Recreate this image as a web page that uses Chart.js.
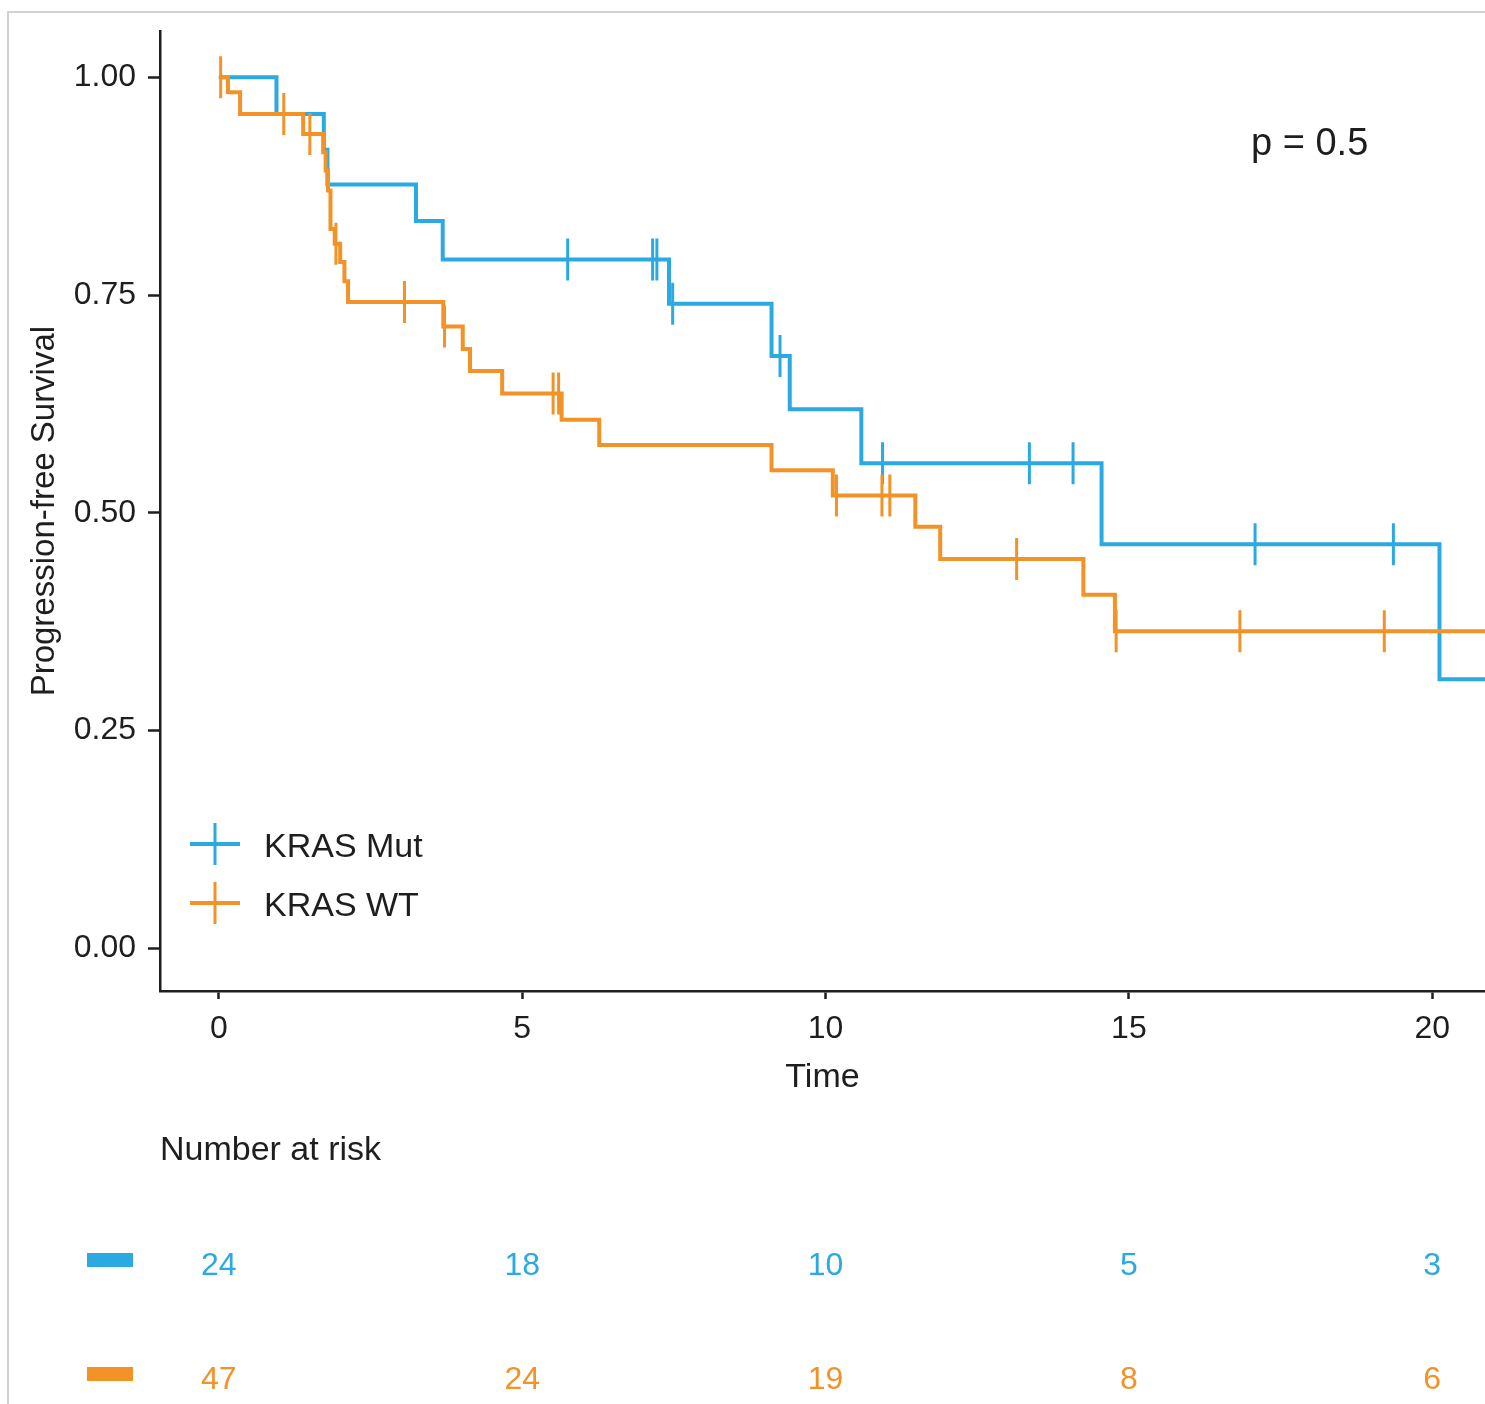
<!DOCTYPE html>
<html>
<head>
<meta charset="utf-8">
<script src="https://cdn.jsdelivr.net/npm/chart.js@4/dist/chart.umd.min.js"></script>
<style>
  html, body { margin: 0; padding: 0; background: #fff; overflow: hidden; }
  #frame { position: absolute; left: 7px; top: 11px; right: -10px; bottom: -10px; border-left: 2px solid #d2d2d2; border-top: 2px solid #d2d2d2; }
  #km { position: absolute; left: 0; top: 0; }
</style>
</head>
<body>
<div id="frame"></div>
<canvas id="km" width="1485" height="1404"></canvas>
<script>
// survival data
const groups = ['KRAS Mut', 'KRAS WT']
const colors = ['#2BA9E1', '#F29227']

const mutTimes = [0, 0.95, 1.73, 1.79, 3.25, 3.69, 7.42, 9.11, 9.41, 10.59, 14.55, 20.12]
const mutSurv = [1.0, 0.958, 0.917, 0.877, 0.835, 0.791, 0.740, 0.680, 0.619, 0.557, 0.464, 0.309]
const mutCensored = [5.75, 7.15, 7.22, 7.48, 9.25, 10.94, 13.36, 14.08, 17.08, 19.36]

const wtTimes = [0, 0.15, 0.35, 1.39, 1.72, 1.76, 1.80, 1.84, 1.91, 2.00, 2.07, 2.13, 3.70, 4.02, 4.14, 4.67, 5.65, 6.27, 9.11, 10.12, 11.48, 11.89, 14.25, 14.77]
const wtSurv = [1.0, 0.983, 0.958, 0.935, 0.914, 0.893, 0.870, 0.826, 0.809, 0.788, 0.766, 0.742, 0.714, 0.688, 0.663, 0.637, 0.607, 0.578, 0.549, 0.520, 0.484, 0.447, 0.406, 0.364]
const wtCensored = [0.03, 1.07, 1.50, 1.93, 3.06, 3.72, 5.51, 5.60, 10.18, 10.93, 11.06, 13.15, 14.79, 16.83, 19.21]

const timeTicks = [0, 5, 10, 15, 20]
const survTicks = [0, 0.25, 0.5, 0.75, 1]
const mutAtRisk = [24, 18, 10, 5, 3]
const wtAtRisk = [47, 24, 19, 8, 6]
const pText = 'p = 0.5'

const xMin = -0.97, xMax = 20.87
const yMin = -0.049, yMax = 1.053
const font = '"Liberation Sans", Arial, sans-serif'
const ink = '#1e1e1e'

function survAt(times, surv, t) {
    var s = surv[0]
    for (var i = 0; i < times.length; i++) if (times[i] <= t) s = surv[i]
    return s
}
function curve(times, surv) {
    var pts = times.map((t, i) => ({x: t, y: surv[i]}))
    pts.push({x: xMax, y: surv[surv.length - 1]})
    return pts
}
function marks(times, surv, cens) {
    return cens.map(t => ({x: t, y: survAt(times, surv, t)}))
}

const overlay = {
    id: 'overlay',
    afterDraw(chart) {
        const ctx = chart.ctx
        const xs = chart.scales.x
        ctx.save()
        // legend inside plot
        groups.forEach((g, i) => {
            var cy = 844 + i * 59
            ctx.strokeStyle = colors[i]
            ctx.lineWidth = 4
            ctx.beginPath(); ctx.moveTo(190, cy); ctx.lineTo(240, cy); ctx.stroke()
            ctx.lineWidth = 3
            ctx.beginPath(); ctx.moveTo(215, cy - 21); ctx.lineTo(215, cy + 21); ctx.stroke()
            ctx.fillStyle = ink
            ctx.font = '34px ' + font
            ctx.textAlign = 'left'
            ctx.textBaseline = 'middle'
            ctx.fillText(g, 264, cy + 4)
        })
        // p value
        ctx.font = '38px ' + font
        ctx.textBaseline = 'alphabetic'
        ctx.fillStyle = ink
        ctx.fillText(pText, 1251, 155)
        // risk table
        ctx.font = '34px ' + font
        ctx.fillText('Number at risk', 160, 1160)
        const rows = [mutAtRisk, wtAtRisk]
        const rowY = [1275, 1389]
        rows.forEach((row, r) => {
            ctx.fillStyle = colors[r]
            ctx.fillRect(87, rowY[r] - 22, 46, 14)
            ctx.font = '32px ' + font
            ctx.textAlign = 'center'
            row.forEach((n, j) => {
                ctx.fillText(String(n), xs.getPixelForValue(timeTicks[j]), rowY[r])
            })
            ctx.textAlign = 'left'
        })
        ctx.restore()
    }
}

new Chart(document.getElementById('km').getContext('2d'), {
    type: 'line',
    data: {
        datasets: [
            {label: groups[0], data: curve(mutTimes, mutSurv), stepped: true, borderColor: colors[0], borderWidth: 4, pointRadius: 0, fill: false, order: 2},
            {label: groups[1], data: curve(wtTimes, wtSurv), stepped: true, borderColor: colors[1], borderWidth: 4, pointRadius: 0, fill: false, order: 1},
            {label: groups[0] + ' censored', data: marks(mutTimes, mutSurv, mutCensored), showLine: false, pointStyle: 'line', rotation: 90, pointRadius: 21, pointBorderWidth: 3, borderColor: colors[0], order: 2},
            {label: groups[1] + ' censored', data: marks(wtTimes, wtSurv, wtCensored), showLine: false, pointStyle: 'line', rotation: 90, pointRadius: 21, pointBorderWidth: 3, borderColor: colors[1], order: 1}
        ]
    },
    options: {
        responsive: false,
        animation: false,
        layout: {autoPadding: false, padding: {left: 0, top: 30, right: 0, bottom: 306}},
        plugins: {legend: {display: false}, tooltip: {enabled: false}},
        scales: {
            x: {
                type: 'linear', min: xMin, max: xMax,
                afterBuildTicks: s => { s.ticks = timeTicks.map(v => ({value: v})) },
                afterFit: s => { s.height = 107; s.paddingLeft = 0; s.paddingRight = 0 },
                grid: {display: true, drawOnChartArea: false, drawTicks: true, tickLength: 8, tickColor: ink, tickWidth: 2.5},
                border: {display: true, color: ink, width: 2.5},
                ticks: {color: ink, font: {family: font, size: 32}, padding: 11, maxRotation: 0},
                title: {display: true, text: 'Time', color: ink, font: {family: font, size: 34}, padding: {top: 0, bottom: 0}}
            },
            y: {
                type: 'linear', min: yMin, max: yMax,
                afterBuildTicks: s => { s.ticks = survTicks.map(v => ({value: v})) },
                afterFit: s => { s.width = 160 },
                grid: {display: true, drawOnChartArea: false, drawTicks: true, tickLength: 12, tickColor: ink, tickWidth: 2.5},
                border: {display: true, color: ink, width: 2.5},
                ticks: {color: ink, font: {family: font, size: 32}, padding: 12, callback: v => v.toFixed(2)},
                title: {display: true, text: 'Progression-free Survival', color: ink, font: {family: font, size: 33}, padding: {top: 25, bottom: 0}}
            }
        }
    },
    plugins: [overlay]
})
</script>
</body>
</html>
